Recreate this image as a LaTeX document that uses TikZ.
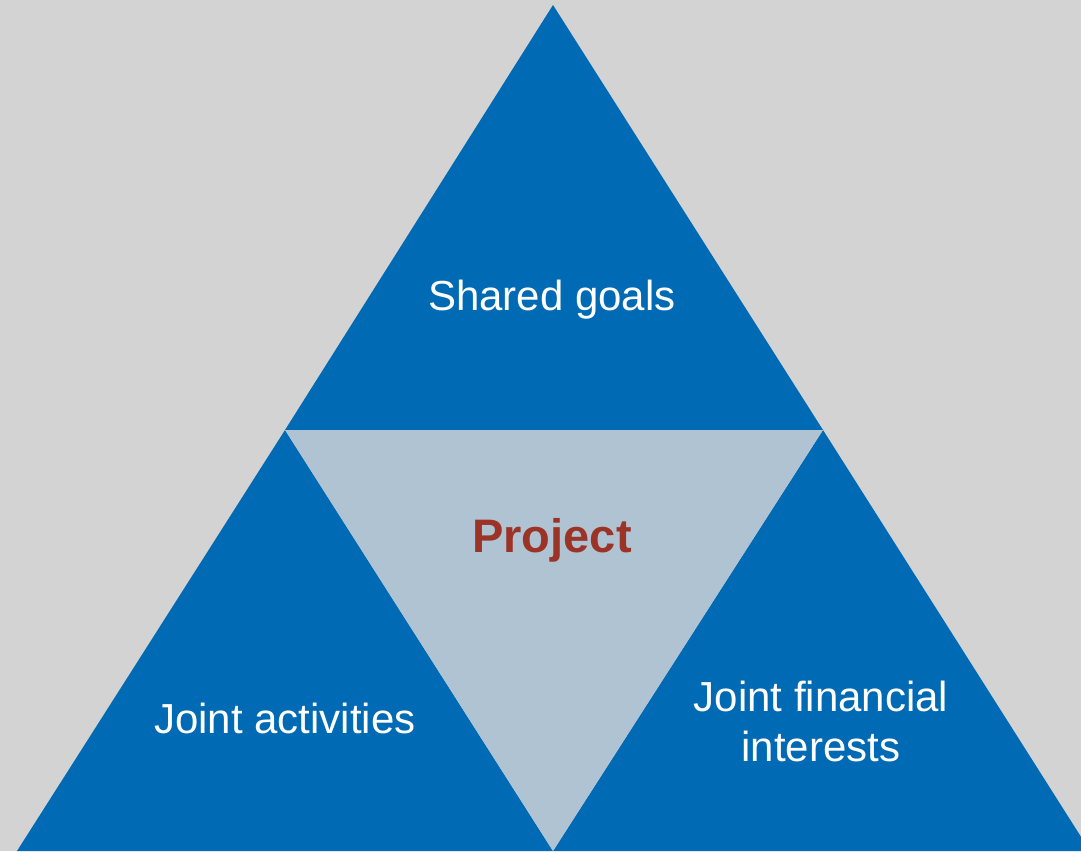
\documentclass[tikz,border=0pt]{standalone}
\usepackage{fontspec}
\setmainfont{Liberation Sans}
\usetikzlibrary{positioning}
\definecolor{tri_blue}{HTML}{006AB4}
\definecolor{tri_core}{HTML}{B0C3D3}
\definecolor{tri_red}{HTML}{9B3326}
\definecolor{bg_grey}{HTML}{D3D3D3}
\tikzset{
        % Outer triangles
        tri_outer/.style={fill=tri_blue, draw=none},
        % Inner triangle
        tri_inner/.style={fill=tri_core, draw=none},
        % Labels on blue
        label_outer/.style={align=center, text=white, font=\fontsize{21}{25}\selectfont, inner sep=0pt},
        % Label in the middle
        label_inner/.style={align=center, text=tri_red, font=\fontsize{23.5}{28}\selectfont\bfseries, inner sep=0pt}
}
\begin{document}
\begin{tikzpicture}[x=0.5pt, y=-0.5pt]
    \fill[bg_grey] (0,0) rectangle (1081,851);
    \useasboundingbox (0,0) rectangle (1081,851);
    \begin{scope}
        \clip (0,0) rectangle (1081,851);
        \coordinate (apex) at (553,5);
        \coordinate (mid_l) at (285,430);
        \coordinate (mid_r) at (823,430);
        \coordinate (base_l) at (17,851);
        \coordinate (base_m) at (553,851);
        \coordinate (base_r) at (1090,851);
        \fill[tri_outer] (apex) -- (mid_r) -- (mid_l) -- cycle;
        \fill[tri_outer] (mid_l) -- (base_m) -- (base_l) -- cycle;
        \fill[tri_outer] (mid_r) -- (base_r) -- (base_m) -- cycle;
        \fill[tri_inner] (mid_l) -- (mid_r) -- (base_m) -- cycle;
    \end{scope}
    \node[label_outer] (goals) at (552,300) {Shared goals};
    \node[label_inner] (project) at (552,540) {Project};
    \node[label_outer] (activities) at (285,718) {Joint activities};
    \node[label_outer] (financial) at (821,721) {Joint financial\\interests};
\end{tikzpicture}
\end{document}
